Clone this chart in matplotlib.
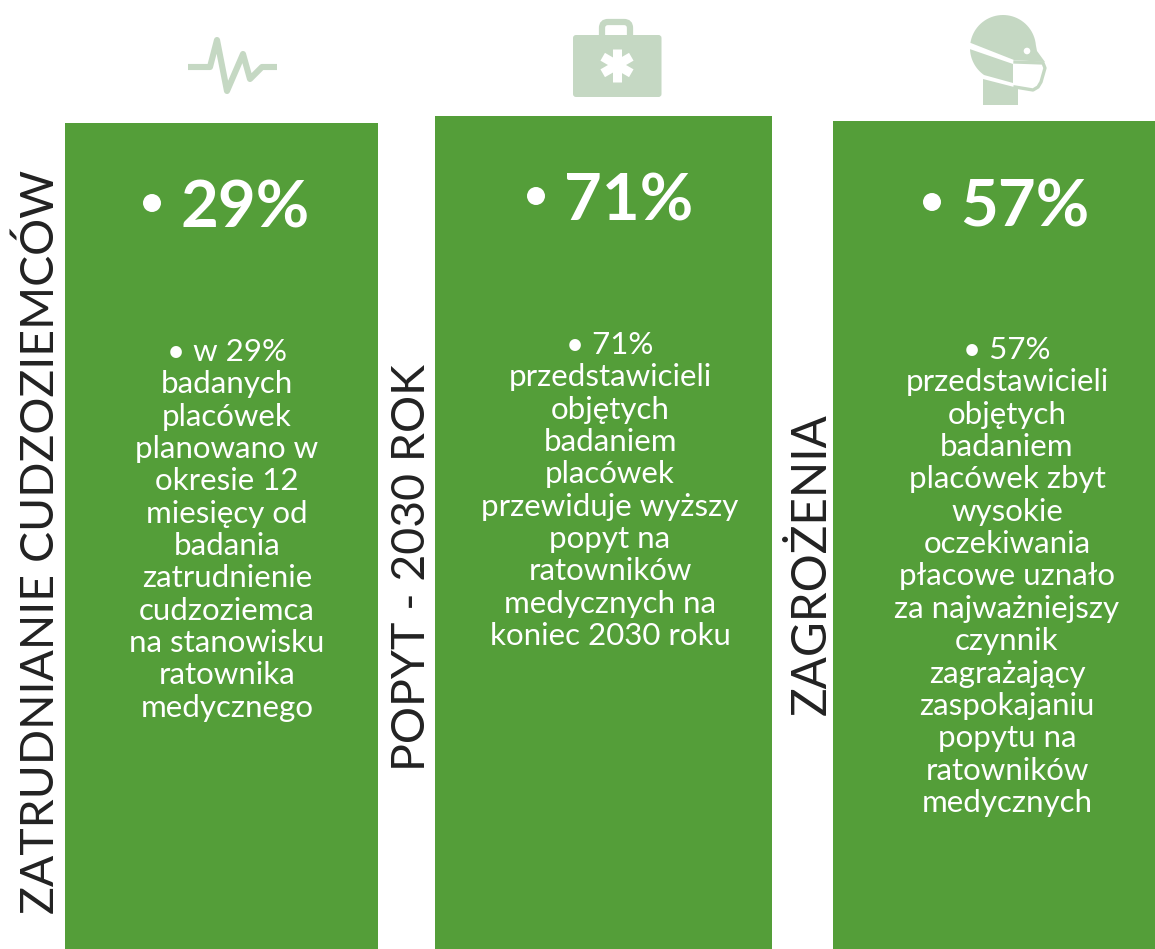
import matplotlib
matplotlib.use("Agg")
import matplotlib.pyplot as plt
from matplotlib.patches import Rectangle, Circle, FancyBboxPatch, Polygon
import numpy as np

FONT = ["Lato", "DejaVu Sans"]
GREEN = "#549E39"
PALE = "#C5D8C3"

side_titles = ["ZATRUDNIANIE CUDZOZIEMCÓW", "POPYT - 2030 ROK", "ZAGROŻENIA"]
percents = ["29%", "71%", "57%"]
bodies = [
    ["• w 29%", "badanych", "placówek", "planowano w", "okresie 12", "miesięcy od", "badania",
     "zatrudnienie", "cudzoziemca", "na stanowisku", "ratownika", "medycznego"],
    ["• 71%", "przedstawicieli", "objętych", "badaniem", "placówek", "przewiduje wyższy",
     "popyt na", "ratowników", "medycznych na", "koniec 2030 roku"],
    ["• 57%", "przedstawicieli", "objętych", "badaniem", "placówek zbyt", "wysokie", "oczekiwania",
     "płacowe uznało", "za najważniejszy", "czynnik", "zagrażający", "zaspokajaniu", "popytu na",
     "ratowników", "medycznych"],
]

panel_x = [(65, 378), (435, 772), (833, 1155)]
panel_top = [123, 116, 121]
pct_x = [245, 629, 1025]
bullet_x = [152, 536, 932]
pct_y = [203, 196, 202]
body_y = [352, 345, 350]
body_cx = [227, 610, 1007]
side_x = [40, 412, 812]
side_bottom = [914, 771, 715]
side_size = [33.4, 33.5, 34.3]
line_step = 32.35

fig = plt.figure(figsize=(11.55, 9.49), dpi=100, facecolor="white")
ax = fig.add_axes([0, 0, 1, 1])
ax.set_xlim(0, 1155)
ax.set_ylim(949, 0)
ax.axis("off")

for i in range(3):
    x0, x1 = panel_x[i]
    ax.add_patch(Rectangle((x0, panel_top[i]), x1 - x0, 949 - panel_top[i], fc=GREEN, ec="none"))
    ax.text(side_x[i], side_bottom[i], side_titles[i], rotation=90, ha="center", va="bottom",
            fontsize=side_size[i], color="#222222", family=FONT)
    ax.text(pct_x[i], pct_y[i], percents[i], ha="center", va="center_baseline", fontsize=47,
            color="white", family=FONT, fontweight="bold")
    ax.add_patch(Circle((bullet_x[i], pct_y[i]), 9, fc="white", ec="none"))
    for j, line in enumerate(bodies[i]):
        ax.text(body_cx[i], body_y[i] + j * line_step, line, ha="center", va="center",
                fontsize=22.5, color="white", family=FONT)

# Pulse icon
ax.plot([188, 210, 217, 227, 243, 250, 262, 277], [67, 67, 40, 91, 54, 79, 67, 67],
        color=PALE, lw=4.4, solid_joinstyle="round", solid_capstyle="butt")

# Kit icon
ax.add_patch(FancyBboxPatch((602, 22), 28, 30, boxstyle="round,pad=0,rounding_size=6",
                            fc="none", ec=PALE, lw=4.5))
ax.add_patch(FancyBboxPatch((573, 35), 88.5, 62, boxstyle="round,pad=0,rounding_size=3",
                            fc=PALE, ec="none"))
for a in (90, 30, 150):
    t = np.deg2rad(a)
    dx, dy = 16.5 * np.cos(t), 16.5 * np.sin(t)
    ax.plot([617 - dx, 617 + dx], [65 - dy, 65 + dy], color="white", lw=6.5, solid_capstyle="butt")

# Head icon
def arc(t0, t1, n=40):
    t = np.deg2rad(np.linspace(t0, t1, n))
    return list(zip(1003 + 33 * np.cos(t), 48 + 33 * np.sin(t)))

ax.add_patch(Polygon(arc(189, 355) + [(1037, 51), (1045, 62), (1014, 60)],
                     closed=True, fc=PALE, ec="none"))
ax.add_patch(Circle((1027, 51), 3.3, fc="white", ec="none"))
ax.add_patch(Polygon(arc(178, 125) + [(1013, 83), (1013, 64)], closed=True, fc=PALE, ec="none"))
ax.add_patch(Polygon([(983, 79), (1018, 88), (1018, 105), (983, 105)], closed=True, fc=PALE, ec="none"))
ax.plot([1015, 1043, 1045, 1041, 1038, 1033, 1015], [62, 63, 68, 82, 87, 90, 87], color=PALE, lw=2.4,
        solid_joinstyle="round")

fig.savefig("out.png", dpi=100, facecolor="white")
